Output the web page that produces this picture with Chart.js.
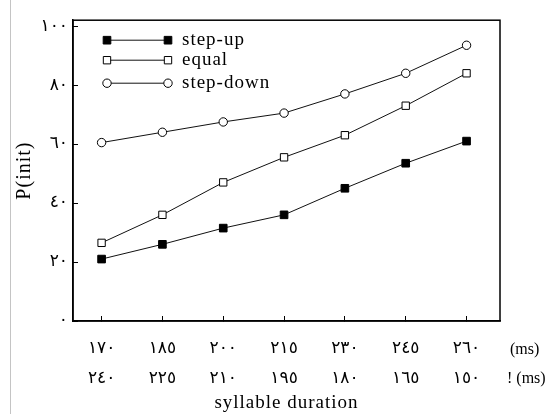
<!DOCTYPE html>
<html>
<head>
<meta charset="utf-8">
<script src="https://cdn.jsdelivr.net/npm/chart.js@4"></script>
<style>
  html, body { margin: 0; padding: 0; background: #fff; }
  canvas { display: block; }
</style>
</head>
<body>
<canvas id="chart" width="545" height="414"></canvas>
<script>
// durations (ms), first row = rising, second row = falling
const durationRow1 = ['١٧٠', '١٨٥', '٢٠٠', '٢١٥', '٢٣٠', '٢٤٥', '٢٦٠'];
const durationRow2 = ['٢٤٠', '٢٢٥', '٢١٠', '١٩٥', '١٨٠', '١٦٥', '١٥٠'];
const yTickValues = [0, 20, 40, 60, 80, 100];
const yTickLabels = ['٠', '٢٠', '٤٠', '٦٠', '٨٠', '١٠٠'];

const stepUp = [21, 26, 31.5, 36, 45, 53.5, 61];
const equal = [26.5, 36, 47, 55.5, 63, 73, 84];
const stepDown = [60.5, 64, 67.5, 70.5, 77, 84, 93.5];

const serif = "'Liberation Serif', 'Times New Roman', serif";
const arabicDigits = "'DejaVu Sans', sans-serif";

function toPoints(values) {
    return values.map((v, i) => ({ x: i, y: v }));
}

function makeSet(label, values, style, fill, radius) {
    return {
        label: label,
        data: toPoints(values),
        borderColor: '#111',
        borderWidth: 1,
        pointStyle: style,
        pointRadius: radius,
        pointBackgroundColor: fill,
        pointBorderColor: '#000',
        pointBorderWidth: 1,
        tension: 0
    };
}

// frame round the plot, legend with a marker at each end, and the (ms) notes
const extras = {
    id: 'extras',
    beforeDraw(chart) {
        const ctx = chart.ctx;
        ctx.save();
        ctx.fillStyle = '#fff';
        ctx.fillRect(0, 0, chart.width, chart.height);
        ctx.strokeStyle = '#c4c4c4';
        ctx.lineWidth = 1;
        ctx.beginPath();
        ctx.moveTo(10.5, 0);
        ctx.lineTo(10.5, chart.height);
        ctx.stroke();
        ctx.restore();
        // the scanned figure has loosely spaced lettering
        ctx.letterSpacing = '1px';
    },
    afterDatasetsDraw(chart) {
        const ctx = chart.ctx;
        const area = chart.chartArea;
        ctx.save();
        ctx.strokeStyle = '#000';
        ctx.lineWidth = 1.5;
        ctx.strokeRect(area.left, area.top, area.right - area.left, area.bottom - area.top);

        const rows = [20, 40, 63];
        const x1 = area.left + 34, x2 = area.left + 95;
        chart.data.datasets.forEach((ds, i) => {
            const y = area.top + rows[i];
            ctx.strokeStyle = '#111';
            ctx.lineWidth = 1;
            ctx.beginPath();
            ctx.moveTo(x1, y);
            ctx.lineTo(x2, y);
            ctx.stroke();
            ctx.fillStyle = ds.pointBackgroundColor;
            ctx.strokeStyle = '#000';
            const opts = { pointStyle: ds.pointStyle, radius: ds.pointRadius, rotation: 0, borderWidth: 1 };
            Chart.helpers.drawPoint(ctx, opts, x1, y);
            Chart.helpers.drawPoint(ctx, opts, x2, y);
            ctx.fillStyle = '#000';
            ctx.font = '19px ' + serif;
            ctx.letterSpacing = '1px';
            ctx.textAlign = 'left';
            ctx.textBaseline = 'middle';
            ctx.fillText(ds.label, area.left + 109, y);
        });

        ctx.letterSpacing = '0px';
        ctx.font = '16px ' + serif;
        ctx.fillText('(ms)', area.right + 10, area.bottom + 29);
        ctx.fillText('! (ms)', area.right + 7, area.bottom + 58);
        ctx.restore();
    }
};

new Chart(document.getElementById('chart'), {
    type: 'line',
    data: {
        datasets: [
            makeSet('step-up', stepUp, 'rect', '#000', 5.4),
            makeSet('equal', equal, 'rect', '#fff', 5.2),
            makeSet('step-down', stepDown, 'circle', '#fff', 4.2)
        ]
    },
    options: {
        responsive: false,
        animation: false,
        layout: { padding: { left: 0, top: 11, right: 45, bottom: 0 } },
        plugins: {
            legend: { display: false },
            tooltip: { enabled: false }
        },
        scales: {
            x: {
                type: 'linear',
                min: -0.47,
                max: 6.55,
                afterBuildTicks: scale => {
                    scale.ticks = durationRow1.map((t, i) => ({ value: i }));
                },
                afterFit: scale => { scale.height = 93; },
                grid: { drawOnChartArea: false, drawTicks: true, tickLength: -5, color: '#000', tickWidth: 1 },
                border: { display: true, color: '#000', width: 1.5 },
                ticks: {
                    autoSkip: false,
                    maxRotation: 0,
                    padding: 18,
                    color: '#000',
                    font: { family: arabicDigits, size: 17, lineHeight: '30px' },
                    callback: (v, i) => [durationRow1[i], durationRow2[i]]
                },
                title: {
                    display: true,
                    text: 'syllable duration',
                    color: '#000',
                    font: { family: serif, size: 19 },
                    padding: { top: 0, bottom: 0 }
                }
            },
            y: {
                min: 0,
                max: 102,
                afterBuildTicks: scale => {
                    scale.ticks = yTickValues.map(v => ({ value: v }));
                },
                afterFit: scale => { scale.width = 73; },
                grid: { drawOnChartArea: false, drawTicks: true, tickLength: -5, color: '#000', tickWidth: 1 },
                border: { display: true, color: '#000', width: 1.5 },
                ticks: {
                    padding: 10,
                    color: '#000',
                    font: { family: arabicDigits, size: 17 },
                    callback: (v, i) => yTickLabels[i]
                },
                title: {
                    display: true,
                    text: 'P(init)',
                    color: '#000',
                    font: { family: serif, size: 20 },
                    padding: { top: 13, bottom: 0 }
                }
            }
        }
    },
    plugins: [extras]
});
</script>
</body>
</html>
